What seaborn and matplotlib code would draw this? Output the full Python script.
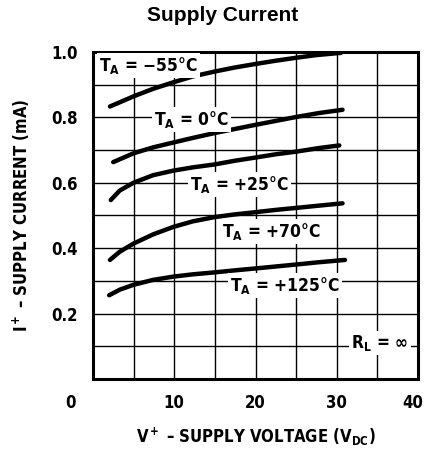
import numpy as np
import pandas as pd
import matplotlib
matplotlib.use("Agg")
import matplotlib.pyplot as plt
import matplotlib.transforms as mtransforms
from matplotlib.ticker import MultipleLocator
import seaborn as sns

# curves (supply voltage V, supply current mA)
v_m55 = [2.1, 5.0, 7.4, 9.9, 12.3, 15.0, 17.4, 20.0, 22.5, 25.0, 27.4, 30.5]
i_m55 = [0.833, 0.864, 0.887, 0.907, 0.925, 0.94, 0.952, 0.963, 0.973, 0.982, 0.99, 0.997]

v_0 = [2.5, 5.0, 7.4, 9.9, 12.3, 15.0, 17.4, 20.0, 22.5, 25.0, 27.8, 30.7]
i_0 = [0.663, 0.69, 0.708, 0.723, 0.737, 0.752, 0.764, 0.777, 0.789, 0.801, 0.813, 0.823]

v_25 = [2.2, 3.3, 5.0, 7.4, 9.9, 12.3, 15.0, 17.4, 20.0, 22.5, 25.0, 27.8, 30.3]
i_25 = [0.547, 0.576, 0.6, 0.623, 0.637, 0.647, 0.656, 0.667, 0.677, 0.687, 0.695, 0.706, 0.714]

v_70 = [2.1, 3.3, 5.0, 7.4, 9.9, 12.3, 15.0, 17.4, 20.0, 22.5, 25.0, 27.8, 30.7]
i_70 = [0.364, 0.389, 0.414, 0.442, 0.465, 0.482, 0.495, 0.503, 0.51, 0.517, 0.523, 0.53, 0.537]

v_125 = [2.0, 3.3, 5.0, 7.4, 9.9, 12.3, 15.0, 17.4, 20.0, 22.5, 25.0, 27.8, 31.0]
i_125 = [0.256, 0.273, 0.288, 0.303, 0.313, 0.32, 0.326, 0.332, 0.338, 0.344, 0.35, 0.357, 0.364]

temps = ["-55", "0", "+25", "+70", "+125"]
label_text = [r"T$_\mathbf{A}$ = $-$55°C", r"T$_\mathbf{A}$ = 0°C",
              r"T$_\mathbf{A}$ = +25°C", r"T$_\mathbf{A}$ = +70°C",
              r"T$_\mathbf{A}$ = +125°C"]
label_pos = [(6.8, 0.958), (12.1, 0.792), (18.0, 0.595), (21.9, 0.452), (23.6, 0.285)]

x_ticks = [0, 10, 20, 30, 40]
y_ticks = [0.2, 0.4, 0.6, 0.8, 1.0]

frames = []
for t, v, i in zip(temps, [v_m55, v_0, v_25, v_70, v_125],
                   [i_m55, i_0, i_25, i_70, i_125]):
    frames.append(pd.DataFrame({"V": v, "I": i, "T": t}))
df = pd.concat(frames, ignore_index=True)

sns.set_style("white")
plt.rcParams["font.family"] = ["DejaVu Sans"]
plt.rcParams["font.stretch"] = "condensed"
plt.rcParams["text.color"] = "black"
plt.rcParams["axes.labelcolor"] = "black"
plt.rcParams["xtick.color"] = "black"
plt.rcParams["ytick.color"] = "black"
plt.rcParams["mathtext.fontset"] = "custom"
plt.rcParams["mathtext.rm"] = "DejaVu Sans:bold"
plt.rcParams["mathtext.bf"] = "DejaVu Sans:bold"

fig = plt.figure(figsize=(4.28, 4.55), dpi=100)
ax = fig.add_axes([0.217, 0.167, 0.76, 0.719])

sns.lineplot(data=df, x="V", y="I", hue="T", palette=["black"] * 5,
             linewidth=3.2, legend=False, ax=ax, sort=False,
             solid_capstyle="round", solid_joinstyle="round")

ax.set_xlim(0, 40)
ax.set_ylim(0, 1.0)
ax.xaxis.set_minor_locator(MultipleLocator(5))
ax.yaxis.set_minor_locator(MultipleLocator(0.1))
ax.set_xticks(x_ticks)
ax.set_yticks(y_ticks)
ax.set_xticklabels([str(x) for x in x_ticks])
ax.set_yticklabels([f"{y:.1f}" for y in y_ticks])
ax.grid(True, which="both", color="black", linewidth=1.0)
ax.tick_params(which="both", length=0, pad=11, labelsize=12)
for lab in ax.get_xticklabels() + ax.get_yticklabels():
    lab.set_fontweight("bold")
# the "0" sits left of the axis corner in the original, "40" a bit inside
xl = ax.get_xticklabels()
xl[0].set_transform(xl[0].get_transform()
                    + mtransforms.ScaledTranslation(-0.22, 0, fig.dpi_scale_trans))
xl[-1].set_transform(xl[-1].get_transform()
                     + mtransforms.ScaledTranslation(-0.05, 0, fig.dpi_scale_trans))

for sp in ax.spines.values():
    sp.set_linewidth(2.2)
    sp.set_color("black")

for txt, (x, y) in zip(label_text, label_pos):
    ax.text(x, y, txt, ha="center", va="center", fontsize=12.5, fontweight="bold",
            bbox=dict(facecolor="white", edgecolor="none", pad=1.5), zorder=5)
ax.text(35.3, 0.11, r"R$_\mathbf{L}$ = ∞", ha="center", va="center", fontsize=12.5,
        fontweight="bold", bbox=dict(facecolor="white", edgecolor="none", pad=1.5),
        zorder=5)

ax.set_xlabel(r"V$^+$ – SUPPLY VOLTAGE (V$_\mathbf{DC}$)", fontsize=12,
              fontweight="bold", labelpad=10)
ax.set_ylabel(r"I$^+$ – SUPPLY CURRENT (mA)", fontsize=12, fontweight="bold",
              labelpad=14)

fig.text(0.52, 0.965, "Supply Current", ha="center", va="center", fontsize=15,
         fontweight="bold", family=["Liberation Sans", "DejaVu Sans"],
         fontstretch="normal")

fig.savefig("out.png", dpi=100)
